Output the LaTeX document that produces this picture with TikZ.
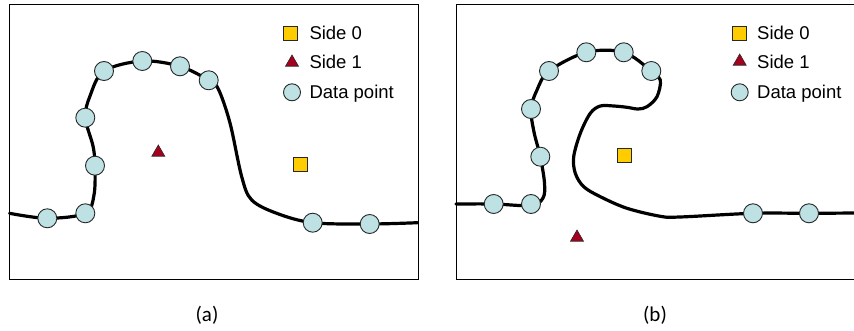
\documentclass[tikz,border=0pt]{standalone}
\usepackage{fontspec}
\setmainfont{Liberation Sans}
\newfontfamily\capfont{Carlito}
\usetikzlibrary{shapes.geometric}
\definecolor{ptfill}{RGB}{190,226,228}
\definecolor{sqfill}{RGB}{255,204,0}
\definecolor{trifill}{RGB}{165,0,30}
\definecolor{edgec}{RGB}{40,40,40}
\tikzset{
  frame/.style={draw=black,line width=1pt},
  curve/.style={draw=black,line width=3.2pt,line cap=round,line join=round},
  datapt/.style={circle,draw=edgec,fill=ptfill,line width=0.9pt,minimum size=19pt,inner sep=0pt},
  side0/.style={rectangle,draw=edgec,fill=sqfill,line width=0.9pt,minimum size=14pt,inner sep=0pt},
  side1/.style={regular polygon,regular polygon sides=3,draw=edgec,fill=trifill,line width=0.6pt,minimum size=15pt,inner sep=0pt},
  legtext/.style={anchor=base west,inner sep=0pt,font=\fontsize{18.5}{20}\selectfont},
  caption/.style={font=\capfont\fontsize{21}{23}\selectfont,inner sep=0pt}
}
\begin{document}
\begin{tikzpicture}[x=1pt,y=-1pt]
\useasboundingbox (0,0) rectangle (854,331);
% ---------- panel (a) ----------
\draw[frame] (9,5) rectangle (418,279.5);
\draw[curve] plot[smooth,tension=0.55] coordinates {
 (9.5,213.3) (47.3,218.3) (85.3,213.3) (94,195) (95,165.7) (93,146) (85.3,117.7) (90,96) (104,71)
 (142.3,61) (180,66.3) (208.7,80.3) (218.3,89) (230,123) (241.7,176.7) (251.7,200) (276.7,213.3)
 (312.7,222.7) (369.7,224) (417.5,222.7)};
\node[datapt] (a1) at (47.3,218.3) {};
\node[datapt] (a2) at (85.3,213.3) {};
\node[datapt] (a3) at (95,165.7) {};
\node[datapt] (a4) at (85.3,117.7) {};
\node[datapt] (a5) at (104,71) {};
\node[datapt] (a6) at (142.3,61) {};
\node[datapt] (a7) at (180,66.3) {};
\node[datapt] (a8) at (208.7,80.3) {};
\node[datapt] (a9) at (312.7,222.7) {};
\node[datapt] (a10) at (369.7,224) {};
\node[side1] (atri) at (158.3,152.5) {};
\node[side0] (asq) at (300.3,164.3) {};
% legend (a)
\node[side0] (alsq) at (290.3,33.3) {};
\node[side1] (altri) at (292,62.5) {};
\node[datapt,minimum size=17pt] (alpt) at (292,92.3) {};
\node[legtext] (alt0) at (309.3,39.5) {Side 0};
\node[legtext] (alt1) at (309.3,68.5) {Side 1};
\node[legtext] (alt2) at (309.3,98.5) {Data point};
\node[caption] (capa) at (207,315.5) {(a)};
% ---------- panel (b) ----------
\draw[frame] (860,5) -- (456,5) -- (456,279.5) -- (860,279.5);
\draw[curve] plot[smooth,tension=0.55] coordinates {
 (456,204) (493.7,204) (531,205.5) (543,198) (544.5,183) (540.3,156.7) (534,132) (531,109) (537,90) (549,71)
 (586.3,52.3) (623.7,52.3) (651.3,71) (660.3,80) (657,96.7) (647,106.7) (638,109) (627,107.3)
 (613.7,106) (600.3,106) (590.3,113.3) (580.3,133.3) (573.7,156.7) (575.3,173.3) (583.7,186.7)
 (600.3,196.7) (627,208.3) (660.3,216.3) (680,217) (753,213.3) (809,213.3) (856,213)};
\node[datapt] (b1) at (493.7,204) {};
\node[datapt] (b2) at (531,204) {};
\node[datapt] (b3) at (540.3,156.7) {};
\node[datapt] (b4) at (531,109) {};
\node[datapt] (b5) at (549,71) {};
\node[datapt] (b6) at (586.3,52.3) {};
\node[datapt] (b7) at (623.7,52.3) {};
\node[datapt] (b8) at (651.3,71) {};
\node[datapt] (b9) at (753,213.3) {};
\node[datapt] (b10) at (809,213.3) {};
\node[side1] (btri) at (577,237.5) {};
\node[side0] (bsq) at (624.3,155) {};
% legend (b)
\node[side0] (blsq) at (739,33.3) {};
\node[side1] (bltri) at (739.7,61.5) {};
\node[datapt,minimum size=17pt] (blpt) at (739.7,92.3) {};
\node[legtext] (blt0) at (757,39.5) {Side 0};
\node[legtext] (blt1) at (757,68.5) {Side 1};
\node[legtext] (blt2) at (757,98.5) {Data point};
\node[caption] (capb) at (655,315.5) {(b)};
\end{tikzpicture}
\end{document}
